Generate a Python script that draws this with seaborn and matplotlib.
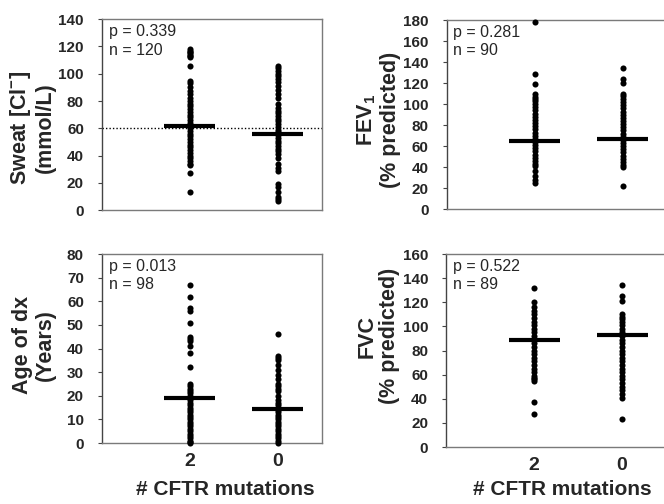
import numpy as np
import pandas as pd
import matplotlib.pyplot as plt
import seaborn as sns

# ==========================================================
# Data
# ==========================================================

groups = ["2", "0"]

sweat_2 = [118, 117, 116, 115, 114, 113, 112, 106, 95, 93, 90, 87, 85, 82, 80,
           78, 76, 74, 72, 70, 68, 66, 64, 62, 60, 58, 56, 54, 52, 50, 48, 46,
           44, 42, 40, 38, 36, 34, 33, 27, 13]
sweat_0 = [106, 104, 102, 100, 98, 96, 94, 91, 88, 85, 82, 78, 75, 73, 71, 69,
           67, 65, 63, 61, 59, 57, 55, 53, 51, 49, 47, 45, 43, 41, 38, 34, 31,
           29, 19, 17, 13, 10, 8, 7]
sweat_means = [62, 56]

fev_2 = [178, 129, 119, 110, 107, 105, 103, 100, 97, 94, 91, 88, 85, 82, 79,
         76, 73, 70, 67, 64, 61, 58, 55, 52, 49, 46, 43, 41, 36, 32, 28, 25]
fev_0 = [134, 124, 120, 110, 108, 105, 102, 99, 96, 93, 90, 87, 84, 81, 78,
         75, 72, 69, 66, 63, 60, 57, 54, 51, 48, 45, 42, 40, 22]
fev_means = [65, 67]

age_2 = [67, 62, 57, 56, 51, 45, 44, 43, 41, 38, 32, 25, 24, 23, 22, 21, 20,
         19, 18, 17, 16, 15, 14, 13, 12, 11, 10, 9, 8, 7, 6, 5, 4, 3, 2, 1, 0.5, 0]
age_0 = [46, 37, 36, 35, 33, 31, 29, 27, 25, 24, 23, 22, 20, 18, 17, 16, 15,
         14, 13, 12, 11, 10, 9, 8, 7, 6, 5, 4, 3, 2, 1, 0]
age_means = [19, 14.5]

fvc_2 = [132, 120, 116, 113, 110, 107, 104, 101, 98, 95, 92, 89, 86, 83, 80,
         77, 74, 71, 68, 65, 62, 59, 57, 56, 55, 37, 27]
fvc_0 = [134, 125, 121, 110, 108, 106, 104, 101, 98, 95, 92, 89, 86, 83, 80,
         77, 74, 71, 68, 65, 62, 59, 56, 53, 50, 47, 44, 41, 23]
fvc_means = [89, 93]

stats = ["p = 0.339\nn = 120", "p = 0.281\nn = 90",
         "p = 0.013\nn = 98", "p = 0.522\nn = 89"]

ylabels = ["Sweat [Cl$^{\\mathbf{-}}$]\n(mmol/L)",
           "FEV$_{\\mathbf{1}}$\n(% predicted)",
           "Age of dx\n(Years)",
           "FVC\n(% predicted)"]

ymax = [140, 180, 80, 160]
ystep = [20, 20, 10, 20]

# ==========================================================
# Style
# ==========================================================

sns.set_theme(style="white")
plt.rcParams["font.family"] = ["Liberation Sans", "DejaVu Sans"]
plt.rcParams["mathtext.fontset"] = "custom"
plt.rcParams["mathtext.rm"] = "Liberation Sans"
plt.rcParams["mathtext.bf"] = "Liberation Sans:bold"

tick_font = ["Liberation Sans Narrow", "Liberation Sans"]

fig = plt.figure(figsize=(6.64, 5.04), dpi=100)

positions = [
    [0.1536, 0.583, 0.331, 0.379],
    [0.673, 0.585, 0.331, 0.375],
    [0.1536, 0.121, 0.331, 0.375],
    [0.672, 0.113, 0.331, 0.383],
]
label_y = [0.43, 0.47, 0.52, 0.575]
xlabel_pos = [(0.56, -0.195), (0.53, -0.172)]

panels = [
    (sweat_2, sweat_0, sweat_means),
    (fev_2, fev_0, fev_means),
    (age_2, age_0, age_means),
    (fvc_2, fvc_0, fvc_means),
]

for i, (vals_2, vals_0, means) in enumerate(panels):
    ax = fig.add_axes(positions[i])

    df = pd.DataFrame({
        "group": ["2"] * len(vals_2) + ["0"] * len(vals_0),
        "value": vals_2 + vals_0,
    })

    sns.stripplot(data=df, x="group", y="value", order=groups, jitter=False,
                  color="black", size=4.4, linewidth=0, ax=ax, clip_on=False,
                  zorder=3)

    # mean bars
    for k, m in enumerate(means):
        ax.hlines(m, k - 0.29, k + 0.29, color="black", lw=3, zorder=4)

    # 60 mmol/L diagnostic threshold
    if i == 0:
        ax.axhline(60, color="black", lw=1, ls=(0, (1, 1.5)), zorder=2)

    ax.set_xlim(-1, 1.5)
    ax.set_ylim(0, ymax[i])
    ax.set_yticks(np.arange(0, ymax[i] + 1, ystep[i]))

    for side in ["top", "right", "left", "bottom"]:
        ax.spines[side].set_color("#7a7a7a")
        ax.spines[side].set_linewidth(1)
    ax.spines["left"].set_color("#444444")

    ax.tick_params(axis="y", left=True, length=3, width=0.8, color="#444444",
                   pad=10)
    for t in ax.get_yticklabels():
        t.set_fontfamily(tick_font)
        t.set_fontweight("bold")
        t.set_fontsize(11)

    if i >= 2:
        ax.tick_params(axis="x", bottom=False, pad=1.5)
        for t in ax.get_xticklabels():
            t.set_fontweight("bold")
            t.set_fontsize(14)
        ax.set_xlabel("# CFTR mutations", fontsize=15, fontweight="bold")
        ax.xaxis.set_label_coords(*xlabel_pos[i - 2])
    else:
        ax.set_xticklabels([])
        ax.tick_params(axis="x", bottom=False)
        ax.set_xlabel("")

    ax.set_ylabel(ylabels[i], fontsize=15.5, fontweight="bold",
                  linespacing=1.1)
    ax.yaxis.set_label_coords(-0.21, label_y[i])

    ax.text(0.03, 0.975, stats[i], transform=ax.transAxes, va="top",
            ha="left", fontsize=11.5, linespacing=1.3)

fig.savefig("out.png", dpi=100)
plt.close(fig)
